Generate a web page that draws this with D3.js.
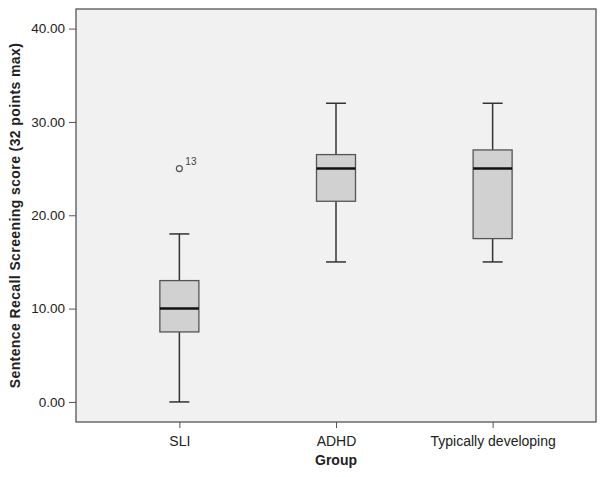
<!DOCTYPE html>
<html><head><meta charset="utf-8">
<script src="https://cdn.jsdelivr.net/npm/d3@7"></script>
<style>body{margin:0;background:#fff}svg{display:block}text{font-family:"Liberation Sans",Arial,sans-serif}</style>
</head><body>
<svg id="c" width="607" height="477"></svg>
<script>
const categories = ["SLI", "ADHD", "Typically developing"];
const lowerWhisker = [0, 15, 15];
const q1 = [7.5, 21.5, 17.5];
const median = [10, 25, 25];
const q3 = [13, 26.5, 27];
const upperWhisker = [18, 32, 32];
const outliers = [{group: "SLI", value: 25, label: "13"}];
const yTicks = [0, 10, 20, 30, 40];

const svg = d3.select("#c");
const L = 76, R = 596, T = 9, B = 422;
const y = d3.scaleLinear().domain([-2.15, 42.1]).range([B, T]);
const x = d3.scalePoint().domain(categories).range([L, R]).padding(0.66);

svg.append("rect").attr("x", L).attr("y", T).attr("width", R - L).attr("height", B - T)
  .attr("fill", "#f1f1f1").attr("stroke", "#555").attr("stroke-width", 1.3);

const yAxis = svg.append("g").attr("transform", `translate(${L},0)`)
  .call(d3.axisLeft(y).tickValues(yTicks).tickFormat(d3.format(".2f")).tickSize(7).tickSizeOuter(0));
yAxis.select(".domain").remove();
yAxis.selectAll("text").attr("font-size", 13.5).attr("fill", "#222").attr("dx", "-1");
yAxis.selectAll("line").attr("stroke", "#555");

const xAxis = svg.append("g").attr("transform", `translate(0,${B})`)
  .call(d3.axisBottom(x).tickSize(6).tickSizeOuter(0));
xAxis.select(".domain").remove();
xAxis.selectAll("text").attr("font-size", 14).attr("fill", "#222").attr("dy", "1.05em");
xAxis.selectAll("line").attr("stroke", "#555");

const bw = 39, cw = 20;
categories.forEach((c, i) => {
  const cx = x(c);
  const g = svg.append("g");
  g.append("line").attr("x1", cx).attr("x2", cx).attr("y1", y(upperWhisker[i])).attr("y2", y(q3[i])).attr("stroke", "#333").attr("stroke-width", 1.5);
  g.append("line").attr("x1", cx).attr("x2", cx).attr("y1", y(q1[i])).attr("y2", y(lowerWhisker[i])).attr("stroke", "#333").attr("stroke-width", 1.5);
  g.append("line").attr("x1", cx - cw/2).attr("x2", cx + cw/2).attr("y1", y(upperWhisker[i])).attr("y2", y(upperWhisker[i])).attr("stroke", "#333").attr("stroke-width", 1.5);
  g.append("line").attr("x1", cx - cw/2).attr("x2", cx + cw/2).attr("y1", y(lowerWhisker[i])).attr("y2", y(lowerWhisker[i])).attr("stroke", "#333").attr("stroke-width", 1.5);
  g.append("rect").attr("x", cx - bw/2).attr("y", y(q3[i])).attr("width", bw).attr("height", y(q1[i]) - y(q3[i]))
    .attr("fill", "#d1d1d1").attr("stroke", "#555").attr("stroke-width", 1.3);
  g.append("line").attr("x1", cx - bw/2).attr("x2", cx + bw/2).attr("y1", y(median[i])).attr("y2", y(median[i])).attr("stroke", "#111").attr("stroke-width", 2.5);
});

outliers.forEach(o => {
  const cx = x(o.group);
  svg.append("circle").attr("cx", cx).attr("cy", y(o.value)).attr("r", 3).attr("fill", "none").attr("stroke", "#555").attr("stroke-width", 1.2);
  svg.append("text").attr("x", cx + 6).attr("y", y(o.value) - 4).attr("font-size", 10).attr("fill", "#444").text(o.label);
});

svg.append("text").attr("x", (L + R) / 2).attr("y", 465).attr("text-anchor", "middle")
  .attr("font-size", 14).attr("font-weight", "bold").attr("fill", "#222").text("Group");
svg.append("text").attr("transform", `translate(20,${(T + B) / 2}) rotate(-90)`).attr("text-anchor", "middle")
  .attr("font-size", 14).attr("letter-spacing", "0.4").attr("font-weight", "bold").attr("fill", "#222").text("Sentence Recall Screening score (32 points max)");
</script>
</body></html>
